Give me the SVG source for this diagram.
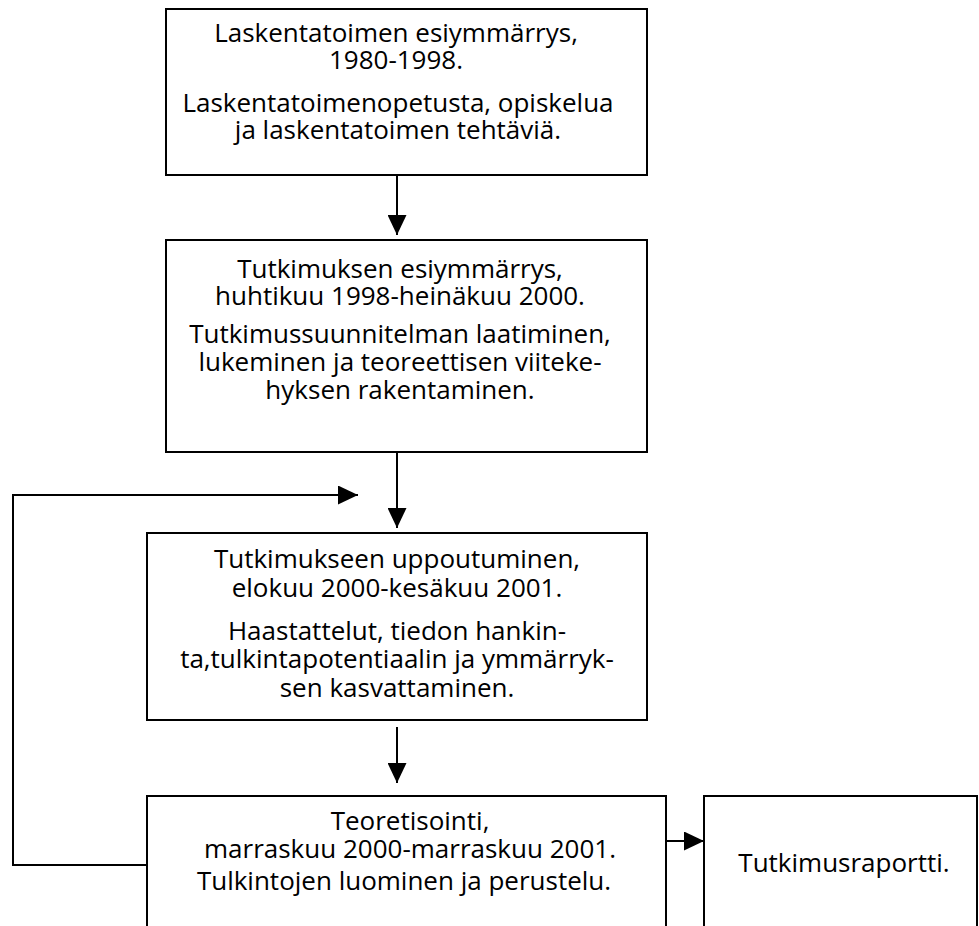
<svg xmlns="http://www.w3.org/2000/svg" width="979" height="926" viewBox="0 0 979 926">
<style>
.box{fill:#fff;stroke:#000;stroke-width:2}
.t{font-family:"Open Sans","Noto Sans","DejaVu Sans",sans-serif;font-size:26px;fill:#000;text-anchor:middle}
.c{fill:none;stroke:#000;stroke-width:2}
</style>
<defs>
<marker id="ah" markerWidth="20" markerHeight="19" refX="20" refY="9.5" orient="auto" markerUnits="userSpaceOnUse">
<path d="M0,0 L20,9.5 L0,19 Z" fill="#000"/>
</marker>
</defs>
<g id="n1">
<rect class="box" x="166" y="9" width="481" height="166"/>
<text class="t"><tspan x="396" y="42">Laskentatoimen esiymmärrys,</tspan><tspan x="396" y="69">1980-1998.</tspan></text>
<text class="t"><tspan x="398" y="112">Laskentatoimenopetusta, opiskelua</tspan><tspan x="398" y="139">ja laskentatoimen tehtäviä.</tspan></text>
</g>
<g id="n2">
<rect class="box" x="166" y="240" width="481" height="212"/>
<text class="t"><tspan x="400" y="278">Tutkimuksen esiymmärrys,</tspan><tspan x="400" y="305">huhtikuu 1998-heinäkuu 2000.</tspan></text>
<text class="t"><tspan x="400" y="343">Tutkimussuunnitelman laatiminen,</tspan><tspan x="400" y="371">lukeminen ja teoreettisen viiteke-</tspan><tspan x="400" y="399">hyksen rakentaminen.</tspan></text>
</g>
<g id="n3">
<rect class="box" x="147" y="533" width="500" height="187"/>
<text class="t"><tspan x="397" y="568">Tutkimukseen uppoutuminen,</tspan><tspan x="397" y="597">elokuu 2000-kesäkuu 2001.</tspan></text>
<text class="t"><tspan x="397" y="640">Haastattelut, tiedon hankin-</tspan><tspan x="397" y="668">ta,tulkintapotentiaalin ja ymmärryk-</tspan><tspan x="397" y="697">sen kasvattaminen.</tspan></text>
</g>
<g id="n4">
<rect class="box" x="147" y="796" width="519" height="150"/>
<text class="t"><tspan x="410" y="830">Teoretisointi,</tspan><tspan x="410" y="858">marraskuu 2000-marraskuu 2001.</tspan></text>
<text class="t" x="404" y="890">Tulkintojen luominen ja perustelu.</text>
</g>
<g id="n5">
<rect class="box" x="704" y="796" width="273" height="150"/>
<text class="t" x="844" y="872">Tutkimusraportti.</text>
</g>
<g id="connectors">
<line class="c" x1="397" y1="175" x2="397" y2="235" marker-end="url(#ah)"/>
<line class="c" x1="397" y1="452" x2="397" y2="528" marker-end="url(#ah)"/>
<line class="c" x1="397" y1="727" x2="397" y2="783" marker-end="url(#ah)"/>
<line class="c" x1="666" y1="841" x2="704" y2="841" marker-end="url(#ah)"/>
<polyline class="c" points="147,865 13,865 13,495 358,495" marker-end="url(#ah)"/>
</g>
</svg>
